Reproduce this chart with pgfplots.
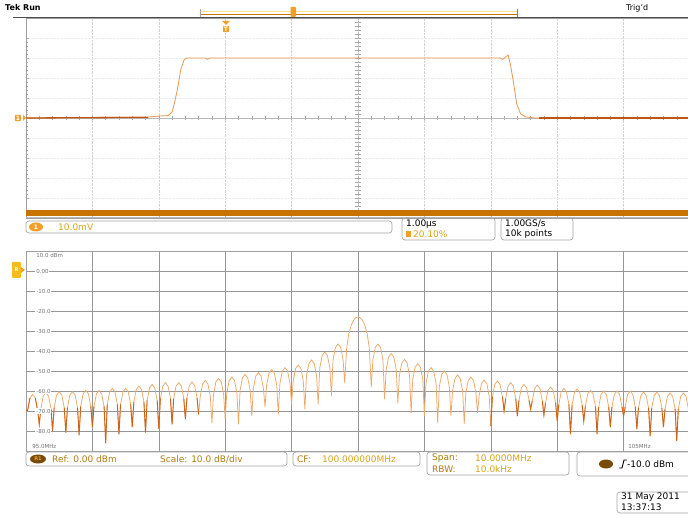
\documentclass[border=0pt]{standalone}
\usepackage{pgfplots}
\usepackage{pgfplotstable}
\pgfplotsset{compat=1.18}
\usepackage{fontspec}
\setmainfont{DejaVu Sans}
\definecolor{tracelt}{RGB}{238,168,105}
\definecolor{tracedk}{RGB}{205,100,25}
\definecolor{pulse}{RGB}{232,150,80}
\definecolor{basedk}{RGB}{190,85,20}
\definecolor{obar}{RGB}{200,115,0}
\definecolor{gold}{RGB}{215,165,20}
\definecolor{brn}{RGB}{175,125,20}
\definecolor{pill}{RGB}{120,75,10}
\definecolor{ochan}{RGB}{240,160,40}
\definecolor{gridc}{RGB}{150,150,150}

\pgfplotstableread[row sep=\\]{u d\\
-25 -70\\ -24.88 -69.7\\ -24.7 -63.5\\ -24.5 -61.7\\ -24.3 -63.5\\ -24.12 -69.7\\
-24 -76.7\\ -23.88 -68.8\\ -23.7 -62.6\\ -23.5 -60.8\\ -23.3 -62.6\\ -23.12 -68.8\\
-23 -80\\ -22.88 -68.3\\ -22.7 -62.1\\ -22.5 -60.3\\ -22.3 -62.1\\ -22.12 -68.3\\
-22 -80.8\\ -21.88 -68.3\\ -21.7 -62.1\\ -21.5 -60.3\\ -21.3 -62.1\\ -21.12 -68.3\\
-21 -82\\ -20.88 -67.7\\ -20.7 -61.5\\ -20.5 -59.7\\ -20.3 -61.5\\ -20.12 -67.7\\
-20 -78\\ -19.88 -67.7\\ -19.7 -61.5\\ -19.5 -59.7\\ -19.3 -61.5\\ -19.12 -67.7\\
-19 -86\\ -18.88 -66.7\\ -18.7 -60.5\\ -18.5 -58.7\\ -18.3 -60.5\\ -18.12 -66.7\\
-18 -81.7\\ -17.88 -66.7\\ -17.7 -60.5\\ -17.5 -58.7\\ -17.3 -60.5\\ -17.12 -66.7\\
-17 -78\\ -16.88 -65.5\\ -16.7 -59.3\\ -16.5 -57.5\\ -16.3 -59.3\\ -16.12 -65.5\\
-16 -80.8\\ -15.88 -64.7\\ -15.7 -58.5\\ -15.5 -56.7\\ -15.3 -58.5\\ -15.12 -64.7\\
-15 -79\\ -14.88 -63.8\\ -14.7 -57.6\\ -14.5 -55.8\\ -14.3 -57.6\\ -14.12 -63.8\\
-14 -76.7\\ -13.88 -63.8\\ -13.7 -57.6\\ -13.5 -55.8\\ -13.3 -57.6\\ -13.12 -63.8\\
-13 -74\\ -12.88 -63.5\\ -12.7 -57.3\\ -12.5 -55.5\\ -12.3 -57.3\\ -12.12 -63.5\\
-12 -71.7\\ -11.88 -62.7\\ -11.7 -56.5\\ -11.5 -54.7\\ -11.3 -56.5\\ -11.12 -62.7\\
-11 -76\\ -10.88 -61.7\\ -10.7 -55.5\\ -10.5 -53.7\\ -10.3 -55.5\\ -10.12 -61.7\\
-10 -74\\ -9.88 -61\\ -9.7 -54.8\\ -9.5 -53\\ -9.3 -54.8\\ -9.12 -61\\
-9 -76.7\\ -8.88 -59.7\\ -8.7 -53.5\\ -8.5 -51.7\\ -8.3 -53.5\\ -8.12 -59.7\\
-8 -72.5\\ -7.88 -58.8\\ -7.7 -52.6\\ -7.5 -50.8\\ -7.3 -52.6\\ -7.12 -58.8\\
-7 -68\\ -6.88 -57.2\\ -6.7 -51\\ -6.5 -49.2\\ -6.3 -51\\ -6.12 -57.2\\
-6 -71.7\\ -5.88 -56.3\\ -5.7 -50.1\\ -5.5 -48.3\\ -5.3 -50.1\\ -5.12 -56.3\\
-5 -67\\ -4.88 -55\\ -4.7 -48.8\\ -4.5 -47\\ -4.3 -48.8\\ -4.12 -55\\
-4 -69\\ -3.88 -52.5\\ -3.7 -46.3\\ -3.5 -44.5\\ -3.3 -46.3\\ -3.12 -52.5\\
-3 -66.7\\ -2.88 -48.5\\ -2.7 -42.3\\ -2.5 -40.5\\ -2.3 -42.3\\ -2.12 -48.5\\
-2 -62.5\\ -1.88 -44.5\\ -1.7 -38.3\\ -1.5 -36.5\\ -1.3 -38.3\\ -1.12 -44.5\\
-1 -56\\ -0.85 -38.5\\ -0.7 -31.7\\ -0.5 -26.9\\ -0.3 -24.3\\ -0.15 -23.3\\
0 -23\\ 0.15 -23.3\\ 0.3 -24.3\\ 0.5 -26.9\\ 0.7 -31.7\\ 0.85 -38.5\\
1 -58\\ 1.12 -44.5\\ 1.3 -38.3\\ 1.5 -36.5\\ 1.7 -38.3\\ 1.88 -44.5\\
2 -64\\ 2.12 -49.3\\ 2.3 -43.1\\ 2.5 -41.3\\ 2.7 -43.1\\ 2.88 -49.3\\
3 -66\\ 3.12 -52.2\\ 3.3 -46\\ 3.5 -44.2\\ 3.7 -46\\ 3.88 -52.2\\
4 -71\\ 4.12 -54.3\\ 4.3 -48.1\\ 4.5 -46.3\\ 4.7 -48.1\\ 4.88 -54.3\\
5 -72.5\\ 5.12 -56.3\\ 5.3 -50.1\\ 5.5 -48.3\\ 5.7 -50.1\\ 5.88 -56.3\\
6 -76\\ 6.12 -58\\ 6.3 -51.8\\ 6.5 -50\\ 6.7 -51.8\\ 6.88 -58\\
7 -72.5\\ 7.12 -60\\ 7.3 -53.8\\ 7.5 -52\\ 7.7 -53.8\\ 7.88 -60\\
8 -76.5\\ 8.12 -61\\ 8.3 -54.8\\ 8.5 -53\\ 8.7 -54.8\\ 8.88 -61\\
9 -71\\ 9.12 -62.5\\ 9.3 -56.3\\ 9.5 -54.5\\ 9.7 -56.3\\ 9.88 -62.5\\
10 -77.5\\ 10.12 -63\\ 10.3 -56.8\\ 10.5 -55\\ 10.7 -56.8\\ 10.88 -63\\
11 -70\\ 11.12 -63.8\\ 11.3 -57.6\\ 11.5 -55.8\\ 11.7 -57.6\\ 11.88 -63.8\\
12 -72.5\\ 12.12 -64.7\\ 12.3 -58.5\\ 12.5 -56.7\\ 12.7 -58.5\\ 12.88 -64.7\\
13 -69\\ 13.12 -65\\ 13.3 -58.8\\ 13.5 -57\\ 13.7 -58.8\\ 13.88 -65\\
14 -72\\ 14.12 -66\\ 14.3 -59.8\\ 14.5 -58\\ 14.7 -59.8\\ 14.88 -66\\
15 -75\\ 15.12 -66.7\\ 15.3 -60.5\\ 15.5 -58.7\\ 15.7 -60.5\\ 15.88 -66.7\\
16 -81.5\\ 16.12 -67\\ 16.3 -60.8\\ 16.5 -59\\ 16.7 -60.8\\ 16.88 -67\\
17 -75\\ 17.12 -67.7\\ 17.3 -61.5\\ 17.5 -59.7\\ 17.7 -61.5\\ 17.88 -67.7\\
18 -81.5\\ 18.12 -68\\ 18.3 -61.8\\ 18.5 -60\\ 18.7 -61.8\\ 18.88 -68\\
19 -78\\ 19.12 -68\\ 19.3 -61.8\\ 19.5 -60\\ 19.7 -61.8\\ 19.88 -68\\
20 -72.5\\ 20.12 -68\\ 20.3 -61.8\\ 20.5 -60\\ 20.7 -61.8\\ 20.88 -68\\
21 -79\\ 21.12 -68.5\\ 21.3 -62.3\\ 21.5 -60.5\\ 21.7 -62.3\\ 21.88 -68.5\\
22 -82.5\\ 22.12 -68.5\\ 22.3 -62.3\\ 22.5 -60.5\\ 22.7 -62.3\\ 22.88 -68.5\\
23 -78\\ 23.12 -69\\ 23.3 -62.8\\ 23.5 -61\\ 23.7 -62.8\\ 23.88 -69\\
24 -85\\ 24.12 -69\\ 24.3 -62.8\\ 24.5 -61\\ 24.7 -62.8\\ 24.88 -69\\
25 -80\\
}\spec

\pgfplotstableread[row sep=\\]{t v\\
-5 0\\ -3.16 0.05\\ -2.98 0.1\\ -2.86 0.12\\ -2.80 0.3\\ -2.76 0.8\\ -2.71 1.6\\
-2.67 2.4\\ -2.62 2.9\\ -2.58 3.0\\ -2.30 3.0\\ -2.27 2.93\\ -2.23 3.0\\
2.14 3.0\\ 2.18 2.93\\ 2.26 3.15\\ 2.30 2.6\\ 2.35 1.6\\ 2.39 0.7\\ 2.45 0.2\\
2.53 0.05\\ 2.67 0\\ 5 0\\
}\pulse

\tikzset{lab/.style={anchor=west, fill=white, inner sep=0.8pt, text=gray!90!black, font=\fontsize{5.5}{6.5}\selectfont}}

\begin{document}
\begin{tikzpicture}[font=\fontsize{9}{10.5}\selectfont]
\clip (0,0) rectangle (688pt,517pt);
\fill[white] (0,0) rectangle (688pt,517pt);

% ---------- top: time domain ----------
\begin{axis}[at={(26pt,299pt)}, anchor=south west, scale only axis,
  width=664pt, height=200pt, xmin=-5, xmax=5, ymin=-5, ymax=5,
  xtick={-4,...,4}, ytick={-4,...,4}, xticklabels={}, yticklabels={},
  minor y tick num=4, ytick pos=left, xtick pos=left, tick align=inside,
  major tick length=3pt, minor tick length=2pt,
  tick style={gray!60, line width=0.4pt},
  xmajorgrids, ymajorgrids,
  x grid style={gray!35, densely dotted, line width=0.5pt},
  y grid style={gray!15, densely dotted, line width=0.4pt},
  axis line style={gray!75, line width=0.8pt}]
\pgfplotsinvokeforeach{-4.8,-4.6,...,4.81}{
  \draw[gray!70, line width=0.4pt] (axis cs:-0.05,#1) -- (axis cs:0.05,#1);
  \draw[gray!70, line width=0.4pt] (axis cs:#1,-0.1) -- (axis cs:#1,0.1);
}
\draw[gray!55, densely dotted, line width=0.6pt] (axis cs:0,-5) -- (axis cs:0,5);
\draw[gray!55, line width=0.5pt] (axis cs:-5,0) -- (axis cs:5,0);
\addplot[pulse, line width=0.8pt] table[x=t, y=v] {\pulse};
\addplot[basedk, line width=1.3pt] coordinates {(-5,0) (-3.16,0.03)};
\addplot[basedk, line width=1.3pt] coordinates {(2.72,0) (5,0)};
\end{axis}

% ---------- bottom: spectrum ----------
\begin{axis}[at={(26pt,66pt)}, anchor=south west, scale only axis,
  width=664pt, height=200pt, xmin=-25, xmax=25, ymin=-90, ymax=10,
  xtick={-20,-15,...,20}, ytick={-80,-70,...,0},
  xticklabels={}, yticklabels={}, major tick length=0pt,
  grid=major, grid style={gridc, line width=0.55pt},
  axis line style={gray!75, line width=0.8pt}]
\addplot[tracelt, line width=0.75pt] table[x=u, y=d] {\spec};
\addplot[tracedk, line width=0.9pt, restrict y to domain=-120:-63, unbounded coords=jump] table[x=u, y=d] {\spec};
\node[lab] at (axis cs:-24.3,0) {0.00};
\node[lab] at (axis cs:-24.3,-10) {-10.0};
\node[lab] at (axis cs:-24.3,-20) {-20.0};
\node[lab] at (axis cs:-24.3,-30) {-30.0};
\node[lab] at (axis cs:-24.3,-40) {-40.0};
\node[lab] at (axis cs:-24.3,-50) {-50.0};
\node[lab] at (axis cs:-24.3,-60) {-60.0};
\node[lab] at (axis cs:-24.3,-70) {-70.0};
\node[lab] at (axis cs:-24.3,-80) {-80.0};
\node[lab, anchor=north west, fill=none] at (axis cs:-24.3,9.4) {10.0 dBm};
\node[lab, anchor=south west, fill=none] at (axis cs:-24.6,-89.5) {95.0MHz};
\node[lab, anchor=south, fill=none] at (axis cs:21.2,-89.5) {105MHz};
\end{axis}

% ---------- header ----------
\node[anchor=west, inner sep=0pt, font=\fontsize{8}{9}\selectfont\bfseries] at (5pt,509pt) {Tek Run};
\node[anchor=west, inner sep=0pt, font=\fontsize{8}{9}\selectfont] at (626pt,509pt) {Trig'd};
\draw[gray!60!black, line width=0.9pt] (13pt,500pt) -- (688pt,500pt);
\draw[yellow!55!orange!45, line width=1.6pt] (200pt,505.5pt) -- (517pt,505.5pt);
\draw[obar, line width=1.1pt] (200pt,502.3pt) -- (517pt,502.3pt);
\draw[gray!70, line width=0.8pt] (200pt,500pt) -- (200pt,508pt);
\draw[obar, line width=0.8pt] (517pt,500pt) -- (517pt,508pt);
\fill[ochan, rounded corners=1pt] (290.5pt,500pt) rectangle (296pt,510pt);
\fill[ochan] (222pt,496pt) -- (230pt,496pt) -- (226pt,492pt) -- cycle;
\node[fill=ochan, text=white, inner sep=0.8pt, font=\fontsize{6}{6}\selectfont\bfseries] at (226pt,488pt) {T};

% channel / reference markers
\node[fill=ochan, text=white, inner sep=1pt, rounded corners=1pt, font=\fontsize{6}{6}\selectfont\bfseries] at (18pt,399pt) {1};
\fill[ochan] (23pt,402pt) -- (26pt,399pt) -- (23pt,396pt) -- cycle;
\fill[ochan!70!yellow, rounded corners=1pt] (12pt,239pt) rectangle (21pt,255pt);
\fill[ochan] (21pt,250pt) -- (25pt,247pt) -- (21pt,244pt) -- cycle;
\node[text=white, inner sep=0pt, font=\fontsize{5}{5}\selectfont\bfseries] at (16.5pt,247pt) {R};

% orange time bar under top graticule
\fill[obar] (26pt,301pt) rectangle (688pt,307pt);
\draw[gray!55, line width=0.5pt] (26pt,300pt) -- (688pt,300pt);

% ---------- top readouts ----------
\draw[gray!70, line width=0.7pt, rounded corners=3pt] (26pt,284pt) rectangle (392pt,296pt);
\fill[ochan] (36pt,290pt) ellipse (7pt and 4.5pt);
\node[text=white, inner sep=0pt, font=\fontsize{6}{6}\selectfont\bfseries] at (36pt,290pt) {1};
\node[anchor=west, inner sep=0pt, text=gold] at (58pt,290pt) {10.0mV};

\draw[gray!70, line width=0.7pt, rounded corners=3pt] (402pt,277pt) rectangle (495pt,299pt);
\node[anchor=west, inner sep=0pt] at (406pt,293pt) {1.00μs};
\fill[ochan] (406pt,280pt) rectangle (411pt,286pt);
\node[anchor=west, inner sep=0pt, text=gold] at (413pt,283pt) {20.10\%};

\draw[gray!70, line width=0.7pt, rounded corners=3pt] (501pt,277pt) rectangle (573pt,299pt);
\node[anchor=west, inner sep=0pt] at (505pt,293pt) {1.00GS/s};
\node[anchor=west, inner sep=0pt] at (505pt,283pt) {10k points};

% ---------- bottom readouts ----------
\draw[gray!70, line width=0.7pt, rounded corners=3pt] (26pt,51pt) rectangle (287pt,65pt);
\fill[pill] (38pt,58pt) ellipse (8pt and 4.5pt);
\node[text=ochan, inner sep=0pt, font=\fontsize{5}{5}\selectfont\bfseries] at (38pt,58pt) {R1};
\node[anchor=west, inner sep=0pt, text=brn] at (52pt,58pt) {Ref: 0.00 dBm};
\node[anchor=west, inner sep=0pt, text=brn] at (160pt,58pt) {Scale: 10.0 dB/div};

\draw[gray!70, line width=0.7pt, rounded corners=3pt] (293pt,51pt) rectangle (420pt,65pt);
\node[anchor=west, inner sep=0pt, text=brn] at (297pt,58pt) {CF:};
\node[anchor=west, inner sep=0pt, text=gold] at (322pt,58pt) {100.000000MHz};

\draw[gray!70, line width=0.7pt, rounded corners=3pt] (427pt,42pt) rectangle (569pt,65pt);
\node[anchor=west, inner sep=0pt, text=brn] at (432pt,59pt) {Span:};
\node[anchor=west, inner sep=0pt, text=gold] at (475pt,59pt) {10.0000MHz};
\node[anchor=west, inner sep=0pt, text=brn] at (432pt,48pt) {RBW:};
\node[anchor=west, inner sep=0pt, text=gold] at (475pt,48pt) {10.0kHz};

\draw[gray!70, line width=0.7pt, rounded corners=3pt] (577pt,41pt) rectangle (700pt,65pt);
\fill[pill] (606pt,53pt) ellipse (7pt and 4.5pt);
\draw[black, line width=0.9pt] (619pt,49pt) -- (622pt,49pt) -- (624pt,57pt) -- (627pt,57pt);
\node[anchor=west, inner sep=0pt] at (627pt,53pt) {-10.0 dBm};

\draw[gray!70, line width=0.7pt, rounded corners=3pt] (617pt,4pt) rectangle (700pt,25pt);
\node[anchor=west, inner sep=0pt] at (621pt,19.5pt) {31 May 2011};
\node[anchor=west, inner sep=0pt] at (621pt,10pt) {13:37:13};
\end{tikzpicture}
\end{document}
